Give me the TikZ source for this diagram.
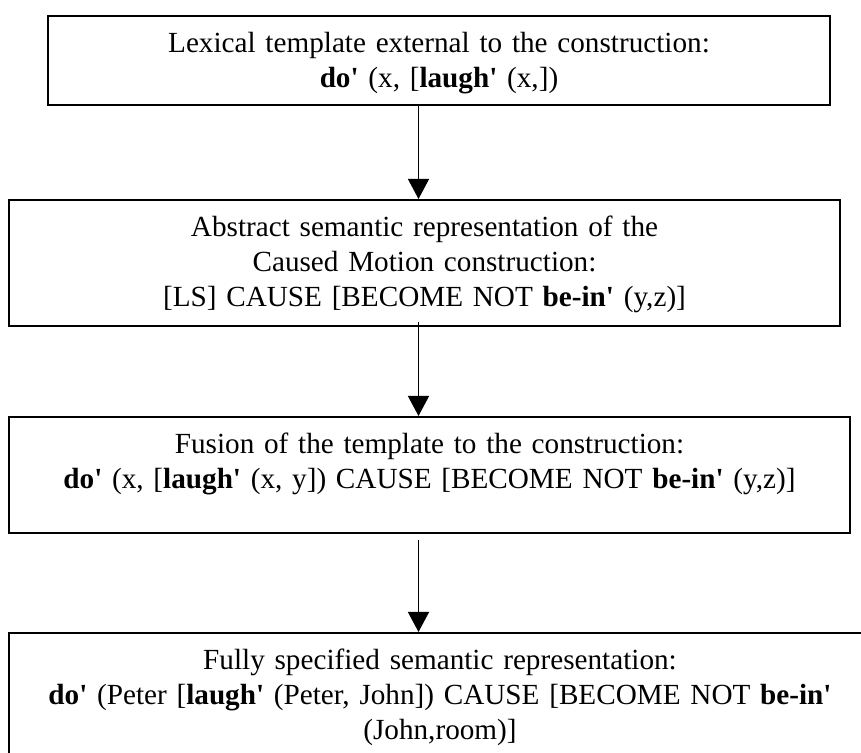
\documentclass[tikz,border=0pt]{standalone}
\usepackage{fontspec}
\setmainfont{Liberation Serif}[Ligatures=TeXOff]
\usetikzlibrary{arrows.meta,calc}

\begin{document}
\begin{tikzpicture}[
  box/.style={draw, line width=0.035cm, anchor=north, inner sep=0pt, align=center, text height=0.641413cm},
  flow/.style={line width=0.023cm, -{Triangle[length=0.351459cm,width=0.369032cm]}}]
                            % \clip (0,0) rectangle (15.130310,13.232431);
                            \useasboundingbox (0,0) rectangle (15.130310,13.232431);
                            {\fontsize{14.6}{17.5}\selectfont

                            % Box for the lexical template
                            \draw (7.714525,12.968837) node [box, text width=13.742047cm, text depth=0.922580cm] (lexical) {Lexical template external to the construction:\\\textbf{do'} (x, [\textbf{laugh'} (x,])};%

                            % Box for the abstract representation
                            \draw (7.459717,9.735414) node [box, text width=14.603121cm, text depth=1.572779cm] (abstract) {Abstract semantic representation of the\\Caused Motion construction:\\{}[LS] CAUSE [BECOME NOT \textbf{be-in'} (y,z)]};%

                            % Box for the fusion
                            \draw (7.547582,5.922084) node [box, text width=14.778851cm, text depth=1.397050cm] (fusion) {Fusion of the template to the construction:\\\textbf{do'} (x, [\textbf{laugh'} (x, y]) CAUSE [BECOME NOT \textbf{be-in'} (y,z)]};%

                            % Box for the full representation (runs past the right and bottom edges)
                            \draw (7.732098,2.126327) node [box, text width=15.147883cm, text depth=1.607925cm] (full) {Fully specified semantic representation:\\\textbf{do'} (Peter [\textbf{laugh'} (Peter, John]) CAUSE [BECOME NOT \textbf{be-in'}\\(John,room)]};%

                            % Column of the arrows
                            \coordinate (arrowx) at (7.354280,0);

                            % Drawing arrow lexical abstract
                            \draw [flow] (lexical.south -| arrowx) -- (abstract.north -| arrowx);%

                            % Drawing arrow abstract fusion
                            \draw [flow] ($(abstract.south -| arrowx)+(0,0.087865)$) -- (fusion.north -| arrowx);%

                            % Drawing arrow fusion full
                            \draw [flow] ($(fusion.south -| arrowx)+(0,-0.105438)$) -- (full.north -| arrowx);%
                            }
                        \end{tikzpicture}
\end{document}
